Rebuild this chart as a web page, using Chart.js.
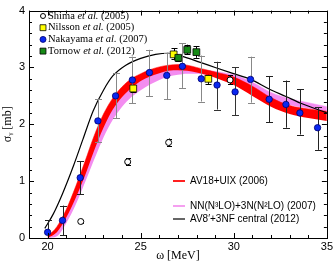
<!DOCTYPE html>
<html lang="en">
<head>
  <meta charset="UTF-8" />
  <title>Photodisintegration cross section</title>
  <script src="https://cdn.jsdelivr.net/npm/chart.js"></script>
  <style>
    html, body { margin: 0; padding: 0; background: #fff; }
    #wrap { width: 335px; height: 264px; }
  </style>
</head>
<body>
  <div id="wrap"><canvas id="chart" width="335" height="264"></canvas></div>

  <script>
    // axis ticks
    const xTicks = [20, 25, 30, 35];
    const yTicks = [0, 1, 2, 3, 4];

    // theory bands (upper / lower edge), common energy grid
    const bandX = [20, 20.5, 21, 21.5, 22, 22.5, 23, 23.5, 24, 24.5, 25, 25.5, 26, 26.5, 27, 27.5, 28, 28.5, 29, 30, 31, 32, 33, 34, 35];
    const redHi = [0.03, 0.2, 0.5, 0.9, 1.34, 1.8, 2.18, 2.46, 2.66, 2.8, 2.89, 2.96, 3.01, 3.04, 3.05, 3.04, 3.0, 2.96, 2.92, 2.83, 2.67, 2.47, 2.33, 2.27, 2.23];
    const redLo = [0, 0.1, 0.36, 0.7, 1.09, 1.54, 1.94, 2.26, 2.48, 2.64, 2.76, 2.84, 2.9, 2.94, 2.95, 2.94, 2.91, 2.87, 2.82, 2.69, 2.5, 2.31, 2.18, 2.11, 2.06];
    const pinkHi = [0, 0.1, 0.4, 0.8, 1.22, 1.65, 2.03, 2.33, 2.54, 2.68, 2.78, 2.86, 2.91, 2.95, 2.97, 2.98, 2.97, 2.95, 2.93, 2.87, 2.74, 2.56, 2.45, 2.38, 2.31];
    const pinkLo = [0, 0.03, 0.26, 0.58, 0.97, 1.38, 1.77, 2.08, 2.31, 2.48, 2.6, 2.7, 2.78, 2.84, 2.87, 2.89, 2.89, 2.87, 2.84, 2.76, 2.63, 2.45, 2.34, 2.28, 2.22];

    // AV8'+3NF central curve
    const av8X = [19.85, 20.3, 20.8, 21.4, 21.9, 22.45, 23, 23.5, 24.2, 25, 25.8, 26.5, 27.2, 28.2, 29, 29.9, 30.9, 31.9, 32.8, 33.6, 35];
    const av8Y = [0.17, 0.42, 0.78, 1.28, 1.74, 2.24, 2.6, 2.85, 3.04, 3.16, 3.23, 3.25, 3.2, 3.09, 3.0, 2.9, 2.79, 2.62, 2.49, 2.37, 2.2];

    // measurements
    const nakX  = [20.0, 20.8, 21.75, 22.7, 23.65, 24.55, 25.47, 26.4, 27.24, 28.25, 29.1, 30.07, 30.9, 31.9, 32.8, 33.55, 34.5];
    const nakY  = [0.1, 0.31, 1.06, 2.06, 2.5, 2.78, 2.91, 2.86, 3.02, 2.8, 2.69, 2.57, 2.79, 2.44, 2.35, 2.2, 1.94];
    const nakLo = [0, 0.05, 0.77, 1.68, 2.11, 2.37, 2.49, 2.44, 2.64, 2.4, 2.26, 2.16, 2.38, 2.04, 1.94, 1.82, 1.55];
    const nakHi = [0.31, 0.57, 1.35, 2.44, 2.9, 3.19, 3.31, 3.26, 3.43, 3.21, 3.1, 3.0, 3.19, 2.85, 2.77, 2.62, 2.3];

    const shiX  = [21.78, 24.3, 26.5, 29.8];
    const shiY  = [0.29, 1.34, 1.68, 2.78];
    const shiLo = [0.26, 1.28, 1.61, 2.71];
    const shiHi = [0.32, 1.4, 1.75, 2.86];

    const nilX  = [24.6, 26.77, 28.63];
    const nilY  = [2.63, 3.23, 2.8];
    const nilLo = [2.57, 3.14, 2.71];
    const nilHi = [2.69, 3.34, 2.87];

    const torX  = [27.02, 27.5, 27.99];
    const torY  = [3.17, 3.31, 3.27];
    const torLo = [3.11, 3.23, 3.17];
    const torHi = [3.22, 3.4, 3.37];

    const pts = (xs, ys) => xs.map((x, i) => ({ x: x, y: ys[i] }));

    // error bars under each measured dataset
    const errorBars = {
      id: 'errorBars',
      beforeDatasetDraw(chart, args) {
        const ds = chart.data.datasets[args.index];
        if (!ds.errLo) return;
        const { ctx, scales: { x, y } } = chart;
        ctx.save();
        ctx.lineWidth = 1;
        ds.data.forEach((p, i) => {
          const px = Math.round(x.getPixelForValue(p.x)) + 0.5;
          const y0 = y.getPixelForValue(Math.max(ds.errLo[i], 0));
          const y1 = y.getPixelForValue(ds.errHi[i]);
          const c = ds.capW;
          ctx.strokeStyle = Array.isArray(ds.errColor) ? ds.errColor[i] : ds.errColor;
          ctx.beginPath();
          ctx.moveTo(px, y0); ctx.lineTo(px, y1);
          ctx.moveTo(px - c, Math.round(y1) + 0.5); ctx.lineTo(px + c, Math.round(y1) + 0.5);
          if (ds.errLo[i] > 0) {
            ctx.moveTo(px - c, Math.round(y0) + 0.5); ctx.lineTo(px + c, Math.round(y0) + 0.5);
          }
          ctx.stroke();
        });
        ctx.restore();
      }
    };

    // frame with inward ticks on all sides
    const frame = {
      id: 'frame',
      afterDatasetsDraw(chart) {
        const { ctx, chartArea: a, scales: { x, y } } = chart;
        ctx.save();
        ctx.strokeStyle = '#000';
        ctx.lineWidth = 1;
        ctx.strokeRect(Math.round(a.left) + 0.5, Math.round(a.top) + 0.5,
                       Math.round(a.right - a.left), Math.round(a.bottom - a.top));
        ctx.beginPath();
        for (let v = 19; v <= 35; v++) {
          const px = Math.round(x.getPixelForValue(v)) + 0.5;
          const len = xTicks.includes(v) ? 5 : 3;
          ctx.moveTo(px, a.bottom); ctx.lineTo(px, a.bottom - len);
          ctx.moveTo(px, a.top); ctx.lineTo(px, a.top + len);
        }
        for (let k = 0; k <= 20; k++) {
          const v = k * 0.2;
          const py = Math.round(y.getPixelForValue(v)) + 0.5;
          const len = k % 5 === 0 ? 5 : 3;
          ctx.moveTo(a.left, py); ctx.lineTo(a.left + len, py);
          ctx.moveTo(a.right, py); ctx.lineTo(a.right - len, py);
        }
        ctx.stroke();
        ctx.restore();
      }
    };

    // two legends: data (top left, serif) and theory (bottom right, sans)
    const legends = {
      id: 'legends',
      afterDraw(chart) {
        const ctx = chart.ctx;
        const sets = chart.data.datasets;
        ctx.save();
        ctx.textBaseline = 'middle';
        let row = 0;
        sets.filter(d => d.legend === 'data').forEach(d => {
          const yy = 16 + row * 11.7;
          ctx.fillStyle = d.backgroundColor;
          ctx.strokeStyle = d.borderColor;
          ctx.lineWidth = d.borderWidth;
          Chart.helpers.drawPoint(ctx, { pointStyle: d.pointStyle, radius: d.legendRadius, rotation: 0, borderWidth: d.borderWidth }, 43, yy);
          const parts = d.label.split(' et al. ');
          let tx = 48;
          ctx.fillStyle = '#000';
          ctx.font = '10.5px "Liberation Serif", serif';
          ctx.fillText(parts[0] + ' ', tx, yy);
          tx += ctx.measureText(parts[0] + ' ').width;
          ctx.font = 'italic 10.5px "Liberation Serif", serif';
          ctx.fillText('et al.', tx, yy);
          tx += ctx.measureText('et al. ').width;
          ctx.font = '10.5px "Liberation Serif", serif';
          ctx.fillText(parts[1], tx, yy);
          row++;
        });
        const rowsY = [181, 206, 219];
        ctx.font = '10px "Liberation Sans", Arial, sans-serif';
        sets.filter(d => d.legend === 'theory')
            .sort((a, b) => a.legendRow - b.legendRow)
            .forEach((d, r) => {
          const yy = rowsY[r];
          ctx.strokeStyle = d.legendColor;
          ctx.lineWidth = d.legendWidth;
          ctx.beginPath();
          ctx.moveTo(173, yy); ctx.lineTo(185, yy);
          ctx.stroke();
          ctx.fillStyle = '#000';
          ctx.fillText(d.label, 190, yy);
        });
        ctx.restore();
      }
    };

    const curve = {
      type: 'line',
      pointRadius: 0,
      cubicInterpolationMode: 'monotone'
    };

    new Chart(document.getElementById('chart'), {
      type: 'scatter',
      data: {
        datasets: [
          { ...curve, label: 'Pink low', data: pts(bandX, pinkLo), borderWidth: 0, borderColor: '#f38cf0', fill: false, order: 4 },
          { ...curve, label: 'NN(N³LO)+3N(N²LO) (2007)', legend: 'theory', legendRow: 1, legendColor: '#f5a0f0', legendWidth: 2,
            data: pts(bandX, pinkHi), borderWidth: 0.5, borderColor: '#f38cf0', backgroundColor: '#f38cf0', fill: 0, order: 4 },
          { ...curve, label: 'Red low', data: pts(bandX, redLo), borderWidth: 0, borderColor: '#ff0000', fill: false, order: 3 },
          { ...curve, label: 'AV18+UIX (2006)', legend: 'theory', legendRow: 0, legendColor: '#ff2020', legendWidth: 2,
            data: pts(bandX, redHi), borderWidth: 0.5, borderColor: '#ff0000', backgroundColor: '#ff0000', fill: 2, order: 3 },
          { ...curve, label: 'AV8′+3NF central (2012)', legend: 'theory', legendRow: 2, legendColor: '#000', legendWidth: 1.2,
            data: pts(av8X, av8Y), borderWidth: 1.2, borderColor: '#000', fill: false, order: 2 },
          { label: 'Shima et al. (2005)', legend: 'data', data: pts(shiX, shiY), errLo: shiLo, errHi: shiHi,
            errColor: '#000', capW: 2.5, pointStyle: 'circle', pointRadius: 3, legendRadius: 2.5,
            backgroundColor: '#fff', borderColor: '#000', borderWidth: 1, order: 1 },
          { label: 'Nilsson et al. (2005)', legend: 'data', data: pts(nilX, nilY), errLo: nilLo, errHi: nilHi,
            errColor: '#000', capW: 3, pointStyle: 'rect', pointRadius: 4.8, legendRadius: 4.2,
            backgroundColor: '#ffff00', borderColor: '#000', borderWidth: 0.8, order: 1 },
          { label: 'Nakayama et al. (2007)', legend: 'data', data: pts(nakX, nakY), errLo: nakLo, errHi: nakHi,
            errColor: ['#222', '#222', '#222', '#888', '#888', '#888', '#888', '#888', '#888', '#888', '#333', '#333', '#888', '#222', '#222', '#222', '#222'],
            capW: 3.5, pointStyle: 'circle', pointRadius: 3.2, legendRadius: 3,
            backgroundColor: '#0a28f0', borderColor: '#00006e', borderWidth: 0.8, order: 1 },
          { label: 'Tornow et al. (2012)', legend: 'data', data: pts(torX, torY), errLo: torLo, errHi: torHi,
            errColor: '#000', capW: 3, pointStyle: 'rect', pointRadius: 4.8, legendRadius: 4.2,
            backgroundColor: '#168a16', borderColor: '#000', borderWidth: 0.8, order: 0 }
        ]
      },
      options: {
        responsive: false,
        animation: false,
        layout: { padding: { top: 5, right: 7, left: 0, bottom: 0 } },
        plugins: { legend: { display: false }, tooltip: { enabled: false } },
        scales: {
          x: {
            type: 'linear', min: 19, max: 35,
            afterBuildTicks: s => { s.ticks = xTicks.map(v => ({ value: v })); },
            afterFit: s => { s.height = 26; },
            grid: { display: false, drawTicks: false },
            border: { display: false },
            ticks: { color: '#000', padding: 2, maxRotation: 0, font: { family: '"Liberation Sans", Arial, sans-serif', size: 11 } },
            title: { display: true, text: 'ω [MeV]', color: '#000', padding: { top: 0, bottom: 1 },
                     font: { family: '"Liberation Serif", serif', size: 12 } }
          },
          y: {
            type: 'linear', min: 0, max: 4,
            afterBuildTicks: s => { s.ticks = yTicks.map(v => ({ value: v })); },
            afterFit: s => { s.width = 29; },
            grid: { display: false, drawTicks: false },
            border: { display: false },
            ticks: { color: '#000', padding: 4, font: { family: '"Liberation Sans", Arial, sans-serif', size: 11 } },
            title: { display: true, text: 'σᵧ [mb]', color: '#000', padding: { top: 1, bottom: 0 },
                     font: { family: '"Liberation Serif", serif', size: 12 } }
          }
        }
      },
      plugins: [errorBars, frame, legends]
    });
  </script>
</body>
</html>
